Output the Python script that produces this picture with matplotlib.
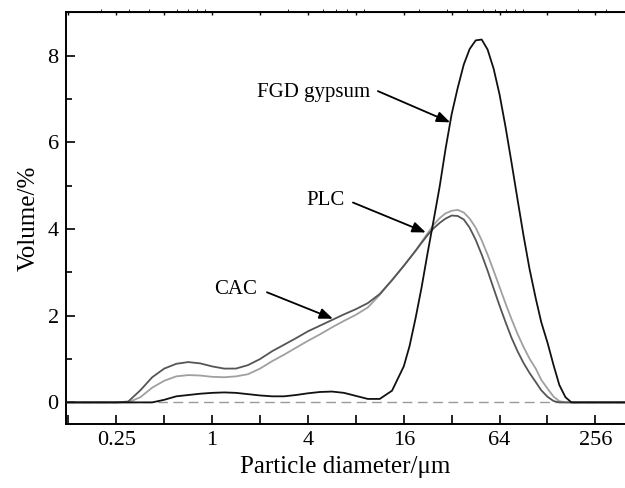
import numpy as np
import matplotlib
matplotlib.use('Agg')
import matplotlib.pyplot as plt
from matplotlib.ticker import FixedLocator, NullFormatter

plt.rcParams['font.family'] = ['Liberation Serif', 'DejaVu Serif']

# particle diameter grid, um (log2 spaced)
diameter = [0.105, 0.125, 0.149, 0.177, 0.210, 0.250, 0.297, 0.354, 0.420, 0.500,
            0.595, 0.707, 0.841, 1.00, 1.19, 1.41, 1.68, 2.00, 2.38, 2.83,
            3.36, 4.00, 4.76, 5.66, 6.73, 8.00, 9.51, 11.3, 13.5,
            16.0, 17.4, 19.0, 20.7, 22.6, 24.7, 26.9, 29.3, 32.0, 34.9,
            38.1, 41.5, 45.3, 49.4, 53.8, 58.7, 64.0, 69.8, 76.1, 83.0,
            90.5, 98.7, 108, 117, 128, 140, 152, 166, 181,
            215, 256, 304, 362, 431]

# volume fraction, %
fgd = [0, 0, 0, 0, 0, 0, 0, 0, 0.0, 0.06,
       0.14, 0.17, 0.20, 0.22, 0.23, 0.22, 0.19, 0.16, 0.14, 0.14,
       0.17, 0.21, 0.24, 0.25, 0.22, 0.15, 0.08, 0.08, 0.27,
       0.83, 1.30, 1.95, 2.65, 3.45, 4.22, 4.98, 5.85, 6.65, 7.25,
       7.79, 8.15, 8.35, 8.37, 8.14, 7.70, 7.10, 6.35, 5.53, 4.68,
       3.85, 3.08, 2.40, 1.85, 1.38, 0.85, 0.40, 0.12, 0.0,
       0, 0, 0, 0, 0]

plc = [0, 0, 0, 0, 0, 0, 0.0, 0.12, 0.34, 0.50,
       0.60, 0.63, 0.62, 0.59, 0.58, 0.60, 0.65, 0.78, 0.95, 1.10,
       1.26, 1.42, 1.57, 1.73, 1.88, 2.02, 2.19, 2.48, 2.82,
       3.15, 3.32, 3.50, 3.70, 3.90, 4.10, 4.25, 4.36, 4.42, 4.44,
       4.38, 4.24, 4.03, 3.74, 3.41, 3.04, 2.66, 2.28, 1.92, 1.58,
       1.28, 1.01, 0.78, 0.52, 0.32, 0.13, 0.03, 0.0, 0.0,
       0, 0, 0, 0, 0]

cac = [0, 0, 0, 0, 0, 0, 0.02, 0.28, 0.58, 0.78,
       0.89, 0.93, 0.90, 0.83, 0.78, 0.78, 0.86, 1.00, 1.18, 1.33,
       1.48, 1.64, 1.77, 1.90, 2.03, 2.15, 2.29, 2.50, 2.82,
       3.15, 3.32, 3.50, 3.68, 3.86, 4.02, 4.14, 4.24, 4.31, 4.30,
       4.22, 4.03, 3.75, 3.41, 3.04, 2.63, 2.23, 1.85, 1.49, 1.18,
       0.91, 0.68, 0.47, 0.28, 0.13, 0.03, 0.0, 0.0, 0.0,
       0, 0, 0, 0, 0]

xticks = [0.25, 1, 4, 16, 64, 256]
xtick_labels = ['0.25', '1', '4', '16', '64', '256']
xminor = [0.125, 0.5, 2, 8, 32, 128]

fig = plt.figure(figsize=(6.25, 4.88), dpi=100)
ax = fig.add_axes([0.105, 0.131, 0.895, 0.844])

ax.axhline(0, color='#9a9a9a', lw=1.0, dashes=(7, 4), zorder=1)
ax.plot(diameter, plc, color='#a0a0a0', lw=1.3, solid_joinstyle='round', zorder=2)
ax.plot(diameter, cac, color='#555555', lw=1.3, solid_joinstyle='round', zorder=3)
ax.plot(diameter, fgd, color='#111111', lw=1.3, solid_joinstyle='round', zorder=4)

ax.set_xscale('log', base=2)
ax.set_xlim(0.12, 393)
ax.set_ylim(-0.5, 9)
ax.xaxis.set_major_locator(FixedLocator(xticks))
ax.set_xticklabels(xtick_labels)
ax.xaxis.set_minor_locator(FixedLocator(xminor))
ax.xaxis.set_minor_formatter(NullFormatter())
ax.set_yticks([0, 2, 4, 6, 8])
ax.set_yticks([1, 3, 5, 7], minor=True)

ax.tick_params(axis='both', which='both', direction='in', labelsize=16, width=1.2, pad=5)
ax.tick_params(axis='x', which='both', length=6.5)
ax.tick_params(axis='y', which='major', length=6.5)
ax.tick_params(axis='y', which='minor', length=4.5)

# short ticks on the top spine
top = ax.secondary_xaxis('top')
top.xaxis.set_major_locator(FixedLocator(xticks + xminor))
top.tick_params(direction='in', length=2.5, width=1.0, labeltop=False)

ax.spines['right'].set_visible(False)
for s in ['left', 'bottom']:
    ax.spines[s].set_linewidth(1.4)
top.spines['top'].set_linewidth(1.4)

ax.set_xlabel('Particle diameter/μm', fontsize=18, labelpad=4)
ax.set_ylabel('Volume/%', fontsize=18, labelpad=6)

# labels with arrows
arrow = dict(arrowstyle='-|>,head_length=0.5,head_width=0.2', color='black',
             lw=1.3, mutation_scale=16, shrinkA=0, shrinkB=0)
ax.text(9.8, 7.14, 'FGD gypsum', fontsize=15, ha='right', va='center')
ax.annotate('', xy=(31.3, 6.46), xytext=(11.0, 7.18), arrowprops=arrow)
ax.text(6.82, 4.65, 'PLC', fontsize=15, ha='right', va='center')
ax.annotate('', xy=(22.0, 3.92), xytext=(7.67, 4.61), arrowprops=arrow)
ax.text(1.91, 2.60, 'CAC', fontsize=15, ha='right', va='center')
ax.annotate('', xy=(5.74, 1.93), xytext=(2.21, 2.54), arrowprops=arrow)

fig.savefig('out.png', dpi=100)
